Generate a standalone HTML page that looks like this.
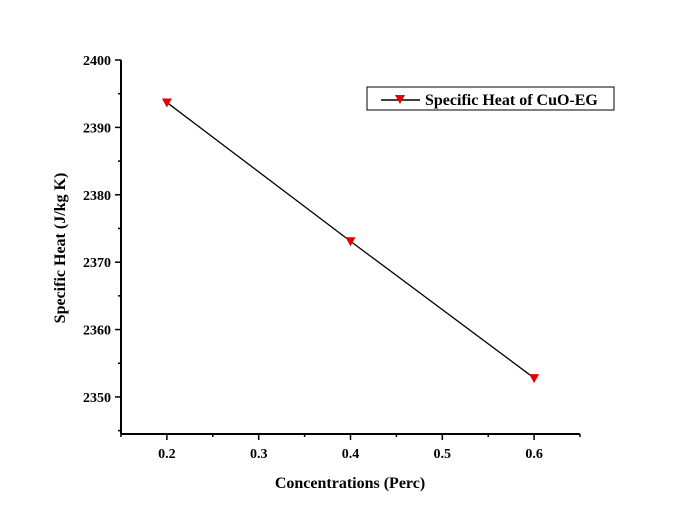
<!DOCTYPE html>
<html><head><meta charset="utf-8"><style>
body{margin:0;background:#fff}
svg{display:block}
text{font-family:"Liberation Serif",serif;font-weight:bold;fill:#000}
</style></head><body>
<svg id="chart" width="673" height="520" viewBox="0 0 673 520">
<g id="axes"></g>
<g id="series"></g>
<text x="350" y="488" font-size="16" text-anchor="middle">Concentrations (Perc)</text>
<text transform="translate(65,248) rotate(-90)" font-size="16" text-anchor="middle">Specific Heat (J/kg K)</text>
<g>
<rect x="367" y="87" width="247" height="23" fill="#fff" stroke="#000" stroke-width="1"/>
<line x1="381" y1="100" x2="420" y2="100" stroke="#000" stroke-width="1.5"/>
<path d="M395,95 L405,95 L400,104 Z" fill="#e00000"/>
<text x="425" y="105" font-size="16">Specific Heat of CuO-EG</text>
</g>
</svg>
<script>
const categories=[0.2,0.4,0.6];
const values=[2393.7,2373.1,2352.8];
const xTicks=[0.2,0.3,0.4,0.5,0.6];
const xTickLabels=["0.2","0.3","0.4","0.5","0.6"];
const yTicks=[2350,2360,2370,2380,2390,2400];
const yTickLabels=["2350","2360","2370","2380","2390","2400"];
const X0=121,X1=580,Y0=434,Y1=60,xmin=0.15,xmax=0.65,ymin=2344.5,ymax=2400;
const sx=v=>X0+(v-xmin)/(xmax-xmin)*(X1-X0);
const sy=v=>Y0-(v-ymin)/(ymax-ymin)*(Y0-Y1);
const NS="http://www.w3.org/2000/svg";
function mk(t,a,p){const e=document.createElementNS(NS,t);for(const k in a)e.setAttribute(k,a[k]);p.appendChild(e);return e;}
const ax=document.getElementById('axes');
let e=mk('line',{x1:X0,y1:Y0,x2:X1,y2:Y0,stroke:'#000','stroke-width':2},ax);


e=mk('line',{x1:X0,y1:Y0,x2:X0,y2:Y1,stroke:'#000','stroke-width':2},ax);


xTicks.forEach((v,i)=>{
 mk('line',{x1:sx(v),y1:Y0,x2:sx(v),y2:Y0+6,stroke:'#000','stroke-width':1.5},ax);
 mk('line',{x1:sx(v-0.05),y1:Y0,x2:sx(v-0.05),y2:Y0+3,stroke:'#000','stroke-width':1.5},ax);
 const t=mk('text',{x:sx(v),y:Y0+24,'font-size':14,'text-anchor':'middle'},ax);t.textContent=xTickLabels[i];
 
 
});
mk('line',{x1:sx(0.65),y1:Y0,x2:sx(0.65),y2:Y0+3,stroke:'#000','stroke-width':1.5},ax);
yTicks.forEach((v,i)=>{
 mk('line',{x1:X0,y1:sy(v),x2:X0-6,y2:sy(v),stroke:'#000','stroke-width':1.5},ax);
 mk('line',{x1:X0,y1:sy(v-5),x2:X0-3,y2:sy(v-5),stroke:'#000','stroke-width':1.5},ax);
 const t=mk('text',{x:X0-10,y:sy(v)+5,'font-size':14,'text-anchor':'end'},ax);t.textContent=yTickLabels[i];
 
 
});
const sg=document.getElementById('series');
const pl=mk('polyline',{points:categories.map((c,i)=>sx(c)+','+sy(values[i])).join(' '),fill:'none',stroke:'#000','stroke-width':1.3},sg);


categories.forEach((c,i)=>{
 const x=sx(c),y=sy(values[i]);
 const m=mk('path',{d:`M${x-5},${y-4} L${x+5},${y-4} L${x},${y+5} Z`,fill:'#e00000'},sg);
 
 
});
</script>
</body></html>
